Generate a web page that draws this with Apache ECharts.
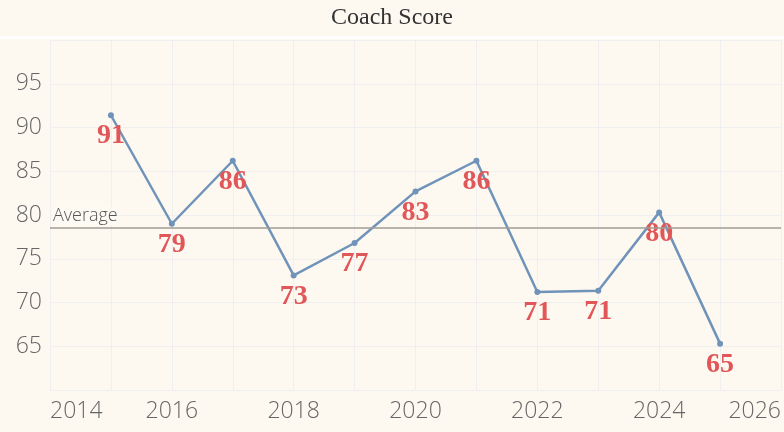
<!DOCTYPE html>
<html>
<head>
<meta charset="utf-8">
<script src="https://cdn.jsdelivr.net/npm/echarts@6/dist/echarts.min.js"></script>
<style>
html,body{margin:0;padding:0;background:#fef9f0;}
#c{width:784px;height:432px;}
</style>
</head>
<body>
<div id="c"></div>
<script>
var years = [2015, 2016, 2017, 2018, 2019, 2020, 2021, 2022, 2023, 2024, 2025];
var scores = [91.4, 79.0, 86.2, 73.1, 76.8, 82.7, 86.2, 71.2, 71.35, 80.3, 65.3];
var yTicks = [65, 70, 75, 80, 85, 90, 95];
var xTicks = [2014, 2016, 2018, 2020, 2022, 2024, 2026];

var chart = echarts.init(document.getElementById('c'));
chart.setOption({
  backgroundColor: '#fef9f0',
  animation: false,
  title: {
    text: 'Coach Score',
    left: 'center',
    top: 1,
    textStyle: {fontFamily: 'Liberation Serif', fontWeight: 'normal', fontSize: 24, color: '#333'}
  },
  graphic: [{
    type: 'rect', shape: {x: 0, y: 36, width: 784, height: 3},
    style: {fill: '#ffffff'}, silent: true, z: 0
  }],
  grid: {left: 50, right: 2, top: 40, bottom: 42},
  xAxis: {
    type: 'value', min: 2014, max: 2026, interval: 1,
    axisLine: {show: false}, axisTick: {show: false},
    splitLine: {show: true, lineStyle: {color: '#efefef', width: 1}},
    axisLabel: {
      fontFamily: 'Open Sans', fontSize: 23, fontWeight: 300, color: '#666', margin: 10,
      alignMinLabel: 'left', alignMaxLabel: 'right',
      formatter: function (v) { return xTicks.indexOf(v) >= 0 ? String(v) : ''; }
    }
  },
  yAxis: {
    type: 'value', min: 60, max: 100, interval: 5,
    axisLine: {show: false}, axisTick: {show: false},
    splitLine: {show: true, lineStyle: {color: '#efefef', width: 1}},
    axisLabel: {
      fontFamily: 'Open Sans', fontSize: 23, fontWeight: 300, color: '#666', margin: 8,
      formatter: function (v) { return yTicks.indexOf(v) >= 0 ? String(v) : ''; }
    }
  },
  series: [{
    type: 'line',
    data: years.map(function (y, i) { return [y, scores[i]]; }),
    symbol: 'circle', symbolSize: 6,
    lineStyle: {color: '#6f93b9', width: 2.5},
    itemStyle: {color: '#6f93b9'},
    label: {
      show: true, position: 'bottom', distance: 4,
      fontFamily: 'Liberation Serif', fontWeight: 'bold', fontSize: 28, color: '#e15759',
      formatter: function (p) { return Math.round(p.value[1]); }
    },
    markLine: {
      silent: true, symbol: 'none',
      data: [{type: 'average', name: 'Average'}],
      lineStyle: {color: '#a09d96', type: 'solid', width: 1.5},
      label: {
        show: true, position: 'insideStartTop', formatter: 'Average',
        fontFamily: 'Open Sans', fontSize: 18, fontWeight: 300, color: '#555', distance: [3, 3],
        backgroundColor: '#fdfaf4'
      }
    }
  }]
});
</script>
</body>
</html>
